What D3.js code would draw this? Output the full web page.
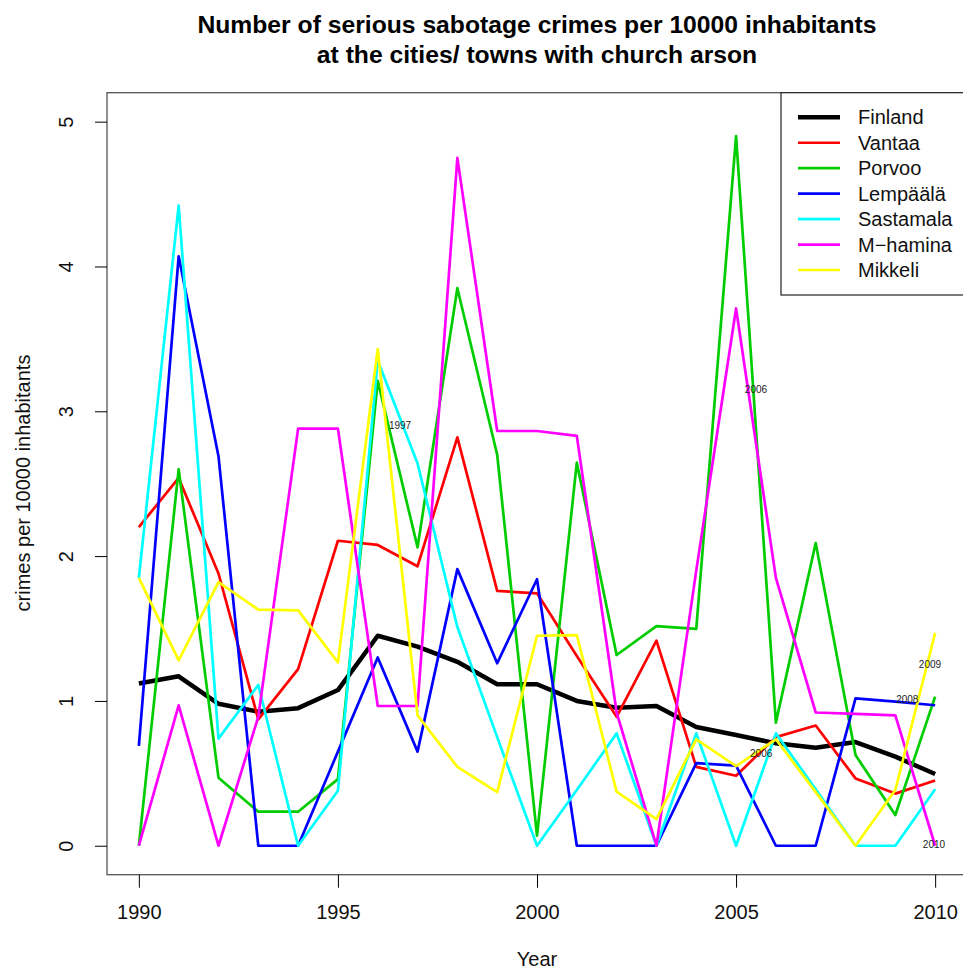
<!DOCTYPE html>
<html>
<head>
  <meta charset="utf-8">
  <script src="https://cdnjs.cloudflare.com/ajax/libs/d3/7.8.5/d3.min.js"></script>
  <title>Sabotage crimes</title>
  <style>
    body { margin: 0; background: #fff; }
    svg { display: block; font-family: "Liberation Sans", Arial, sans-serif; }
  </style>
</head>
<body>
<script>
// data
const years = d3.range(1990, 2011);
const finland   = [1.12,1.17,0.98,0.925,0.95,1.075,1.45,1.375,1.27,1.115,1.115,1.0,0.953,0.965,0.82,0.765,0.707,0.677,0.716,0.615,0.495];
const vantaa    = [2.20,2.54,1.88,0.873,1.22,2.106,2.077,1.93,2.82,1.76,1.743,1.31,0.89,1.416,0.545,0.483,0.75,0.83,0.465,0.36,0.45];
const porvoo    = [0,2.60,0.47,0.235,0.235,0.46,3.21,2.06,3.85,2.70,0.07,2.645,1.317,1.517,1.497,4.90,0.85,2.09,0.626,0.212,1.03];
const lempaala  = [0.69,4.07,2.69,0,0,0.65,1.30,0.65,1.91,1.26,1.84,0,0,0,0.57,0.553,0,0,1.018,0.995,0.97];
const sastamala = [1.85,4.42,0.74,1.11,0,0.38,3.35,2.64,1.51,0.75,0,0.385,0.776,0,0.776,0,0.776,0.39,0,0,0.39];
const mhamina   = [0,0.97,0,0.89,2.88,2.88,0.965,0.965,4.75,2.864,2.864,2.83,0.92,0,1.9,3.71,1.85,0.92,0.91,0.90,0];
const mikkeli   = [1.85,1.28,1.82,1.63,1.625,1.266,3.43,0.90,0.545,0.37,1.45,1.455,0.373,0.184,0.735,0.55,0.735,0.37,0,0.385,1.47];

const seriesNames = ["Finland","Vantaa","Porvoo","Lempäälä","Sastamala","M\u2212hamina","Mikkeli"];
const seriesValues = [finland, vantaa, porvoo, lempaala, sastamala, mhamina, mikkeli];
const seriesColors = ["#000000","#ff0000","#00cd00","#0000ff","#00ffff","#ff00ff","#ffff00"];

const xTicks = [1990, 1995, 2000, 2005, 2010];
const yTicks = [0, 1, 2, 3, 4, 5];

// small year notes written inside the plot: [x, y, label]
const notes = [[1996.56, 2.90, "1997"], [2005.5, 3.15, "2006"], [2005.63, 0.64, "2006"],
               [2009.87, 1.25, "2009"], [2009.3, 1.01, "2008"], [2009.97, 0.01, "2010"]];

const W = 963, H = 971;
const svg = d3.select("body").append("svg").attr("width", W).attr("height", H);

const x = d3.scaleLinear().domain([1989.2, 2010.8]).range([107, 967]);
const y = d3.scaleLinear().domain([-0.2, 5.2]).range([874.7, 92.7]);

// lines (drawn first so box sits over them)
const line = d3.line().x((d, i) => x(years[i])).y(d => y(d));
seriesValues.forEach((vals, k) => {
  svg.append("path")
    .datum(vals)
    .attr("d", line)
    .attr("fill", "none")
    .attr("stroke", seriesColors[k])
    .attr("stroke-width", k === 0 ? 4.5 : 2.7)
    .attr("stroke-linejoin", "round");
});

// notes
svg.selectAll("text.note")
  .data(notes)
  .enter().append("text")
  .attr("class", "note")
  .attr("x", d => x(d[0]))
  .attr("y", d => y(d[1]) + 3.5)
  .attr("text-anchor", "middle")
  .attr("font-size", 10)
  .attr("fill", "#222")
  .text(d => d[2]);

// plot box
svg.append("rect")
  .attr("x", 107).attr("y", 92.7)
  .attr("width", 860).attr("height", 782)
  .attr("fill", "none")
  .attr("stroke", "#555")
  .attr("stroke-width", 1.3);

// x axis
const xAxis = svg.append("g")
  .attr("transform", "translate(0," + 874.7 + ")")
  .call(d3.axisBottom(x).tickValues(xTicks).tickFormat(d3.format("d"))
        .tickSize(13).tickSizeOuter(0).tickPadding(17));
xAxis.select(".domain").remove();
xAxis.selectAll("text").attr("font-size", 20).attr("font-family", "Liberation Sans, Arial, sans-serif").attr("fill", "#111");

// y axis, labels parallel to axis
const yAxis = svg.append("g")
  .attr("transform", "translate(107,0)")
  .call(d3.axisLeft(y).tickValues(yTicks).tickFormat(d3.format("d"))
        .tickSize(12).tickSizeOuter(0));
yAxis.select(".domain").remove();
yAxis.selectAll("text")
  .attr("transform", "rotate(-90)")
  .attr("x", 0).attr("y", -34).attr("dy", 0)
  .attr("text-anchor", "middle")
  .attr("font-size", 20)
  .attr("font-family", "Liberation Sans, Arial, sans-serif")
  .attr("fill", "#111");

// titles
svg.append("text")
  .attr("x", 537).attr("y", 33)
  .attr("text-anchor", "middle")
  .attr("font-size", 24.7).attr("font-weight", "bold")
  .text("Number of serious sabotage crimes per 10000 inhabitants");
svg.append("text")
  .attr("x", 537).attr("y", 63)
  .attr("text-anchor", "middle")
  .attr("font-size", 24.7).attr("font-weight", "bold")
  .text("at the cities/ towns with church arson");

svg.append("text")
  .attr("x", 537).attr("y", 966)
  .attr("text-anchor", "middle")
  .attr("font-size", 20).attr("fill", "#111")
  .text("Year");

svg.append("text")
  .attr("transform", "translate(30,483) rotate(-90)")
  .attr("text-anchor", "middle")
  .attr("font-size", 20).attr("fill", "#111")
  .text("crimes per 10000 inhabitants");

// legend (top right, runs past the right edge like the original)
const lg = svg.append("g");
lg.append("rect")
  .attr("x", 781).attr("y", 92.7)
  .attr("width", 186).attr("height", 202.3)
  .attr("fill", "#fff")
  .attr("stroke", "#222")
  .attr("stroke-width", 1.2);
seriesNames.forEach((name, k) => {
  const cy = 117.3 + k * 25.45;
  lg.append("line")
    .attr("x1", 798).attr("x2", 840)
    .attr("y1", cy).attr("y2", cy)
    .attr("stroke", seriesColors[k])
    .attr("stroke-width", k === 0 ? 4.5 : 2.7);
  lg.append("text")
    .attr("x", 858).attr("y", cy + 7)
    .attr("font-size", 20).attr("fill", "#111")
    .text(name);
});
</script>
</body>
</html>
